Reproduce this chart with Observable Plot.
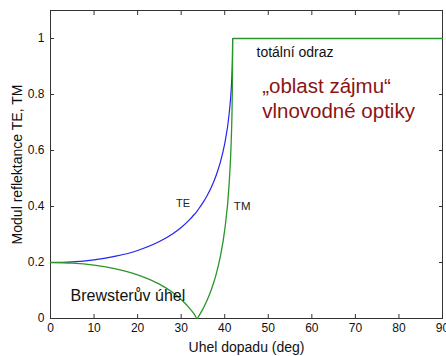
<!DOCTYPE html>
<html>
<head>
<meta charset="utf-8">
<script src="https://cdn.jsdelivr.net/npm/d3@7"></script>
<script src="https://cdn.jsdelivr.net/npm/@observablehq/plot@0.6"></script>
<style>
  html, body { margin: 0; padding: 0; background: #fff; }
  #chart { width: 446px; height: 356px; }
</style>
</head>
<body>
<div id="chart"></div>
<script>
// Angle of incidence (deg)
const angles = [0, 5, 10, 15, 20, 25, 28, 30, 32, 33, 33.7, 34, 35, 36, 37, 38, 39, 40, 41, 41.5, 41.7, 41.8, 41.81, 50, 60, 70, 80, 90];
// |r| for TE polarisation
const te = [0.2, 0.2023, 0.2095, 0.2225, 0.243, 0.2748, 0.302, 0.3252, 0.3541, 0.3714, 0.3846, 0.391, 0.4136, 0.4401, 0.4715, 0.51, 0.5587, 0.6249, 0.7287, 0.8216, 0.8891, 0.964, 1, 1, 1, 1, 1, 1];
// |r| for TM polarisation
const tm = [0.2, 0.1977, 0.1905, 0.1773, 0.1562, 0.1228, 0.0935, 0.0679, 0.0353, 0.0155, 0, 0.0075, 0.0345, 0.0667, 0.1062, 0.1559, 0.2217, 0.3163, 0.4781, 0.6389, 0.7667, 0.9208, 1, 1, 1, 1, 1, 1];

const xTicks = [0, 10, 20, 30, 40, 50, 60, 70, 80, 90];
const yTicks = [0, 0.2, 0.4, 0.6, 0.8, 1];

// Annotations
const labels = [
  {x: 28.8, y: 0.41, text: "TE", size: 11, color: "#222"},
  {x: 42.1, y: 0.40, text: "TM", size: 11.5, color: "#222"},
  {x: 4.6, y: 0.08, text: "Brewsterův úhel", size: 16, color: "#111"},
  {x: 47.3, y: 0.95, text: "totální odraz", size: 14, color: "#111"}
];
const notes = [
  {x: 48.6, y: 0.83, text: "„oblast zájmu“"},
  {x: 48.6, y: 0.74, text: "vlnovodné optiky"}
];

const rows = angles.map((a, i) => ({a, te: te[i], tm: tm[i]}));

const chart = Plot.plot({
  width: 446,
  height: 356,
  marginLeft: 50,
  marginRight: 4,
  marginTop: 10,
  marginBottom: 38,
  style: {fontFamily: "'Liberation Sans', Arial, sans-serif", background: "#fff"},
  x: {domain: [0, 90]},
  y: {domain: [0, 1.1]},
  marks: [
    Plot.frame({stroke: "#333"}),
    // inward tick marks on all four sides
    Plot.axisX(xTicks, {anchor: "bottom", tickSize: -4, text: null, label: null, stroke: "#333"}),
    Plot.axisX(xTicks, {anchor: "top", tickSize: -4, text: null, label: null, stroke: "#333"}),
    Plot.axisY(yTicks, {anchor: "left", tickSize: -4, text: null, label: null, stroke: "#333"}),
    Plot.axisY(yTicks, {anchor: "right", tickSize: -4, text: null, label: null, stroke: "#333"}),
    // tick labels
    Plot.axisX(xTicks, {anchor: "bottom", tickSize: 0, tickPadding: 5, fontSize: 12, fill: "#111", label: null}),
    Plot.axisY(yTicks, {anchor: "left", tickSize: 0, tickPadding: 6, fontSize: 12, fill: "#111",
      tickFormat: d => String(d), label: null}),
    // axis titles
    Plot.axisX([], {anchor: "bottom", tickSize: 0, text: null, fontSize: 14, fill: "#111",
      label: "Uhel dopadu (deg)", labelAnchor: "center", labelArrow: "none", labelOffset: 33}),
    Plot.axisY([], {anchor: "left", tickSize: 0, text: null, fontSize: 14, fill: "#111",
      label: "Modul reflektance TE, TM", labelAnchor: "center", labelArrow: "none", labelOffset: 38}),
    Plot.line(rows, {x: "a", y: "te", stroke: "#2424ee", strokeWidth: 1.2, curve: "monotone-x"}),
    Plot.line(rows, {x: "a", y: "tm", stroke: "#2a962a", strokeWidth: 1.3, curve: "monotone-x"}),
    Plot.text(labels, {x: "x", y: "y", text: "text", fontSize: d => d.size, fill: "color", textAnchor: "start"}),
    Plot.text(notes, {x: "x", y: "y", text: "text", fontSize: 20.5, fill: "#8b1414", textAnchor: "start"})
  ]
});
document.getElementById("chart").appendChild(chart);
</script>
</body>
</html>
